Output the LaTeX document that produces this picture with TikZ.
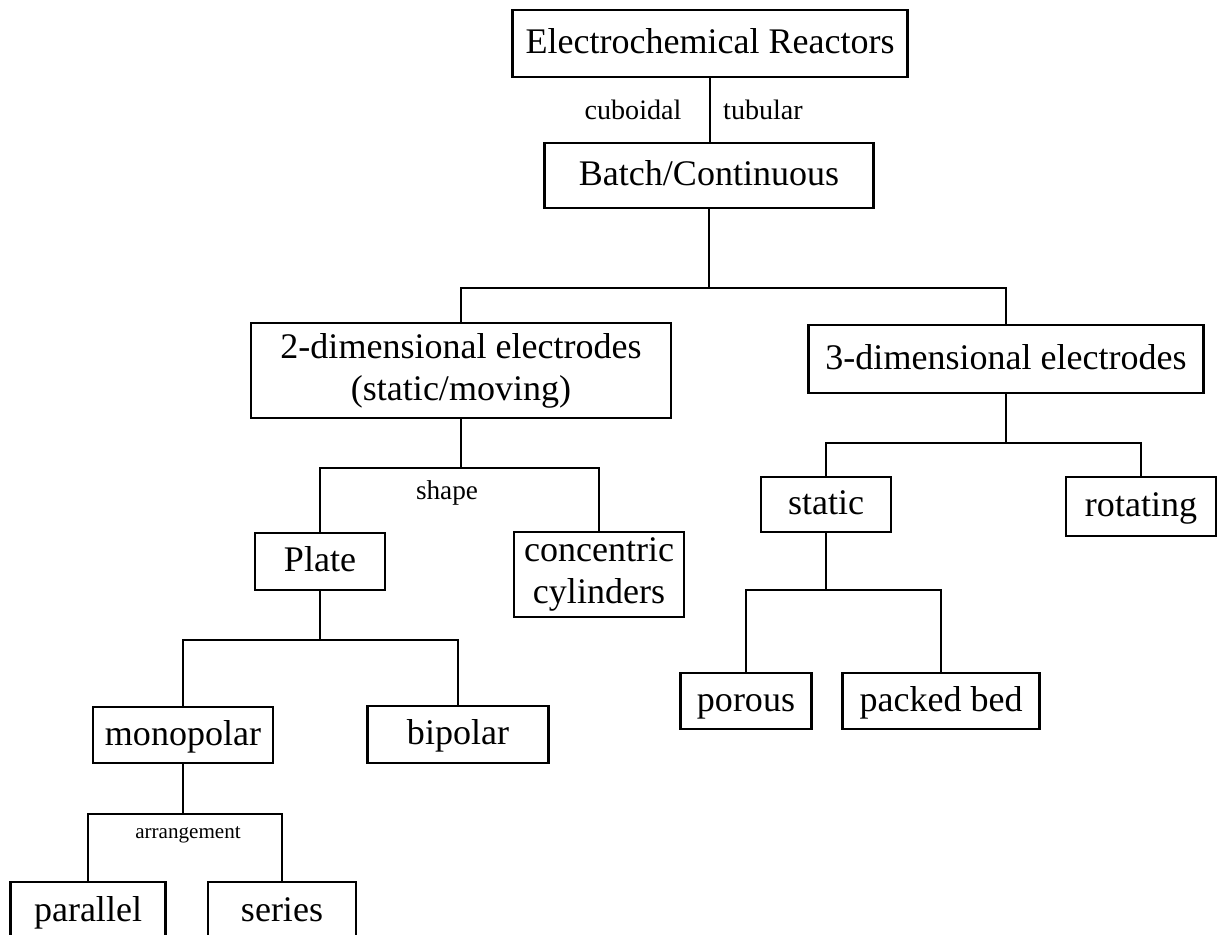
\documentclass[tikz,border=0pt]{standalone}
\usepackage{fontspec}
\setmainfont{Liberation Serif}

\tikzset{
  blk/.style={draw,line width=1.3pt,inner sep=0pt,align=center,font=\fontsize{20.5}{24}\selectfont},
  one/.style={blk,text height=15pt,text depth=3.6pt},
  lbl/.style={inner sep=0pt,font=\fontsize{16}{18}\selectfont},
}

\begin{document}
\begin{tikzpicture}[x=0.02cm,y=-0.02cm,line width=1.3pt]
\useasboundingbox (0,0) rectangle (1217,934);
% boxes
\node[one,minimum width=7.9cm,minimum height=1.34cm] (er) at (710,43.5) {Electrochemical Reactors};
\node[one,minimum width=6.58cm,minimum height=1.3cm] (bc) at (709,175.5) {Batch/Continuous};
\node[blk,minimum width=8.4cm,minimum height=1.9cm] (twod) at (461,370.5) {2-dimensional electrodes\\(static/moving)};
\node[one,minimum width=7.9cm,minimum height=1.36cm] (threed) at (1006,359) {3-dimensional electrodes};
\node[one,minimum width=2.6cm,minimum height=1.1cm] (stat) at (826,504.5) {static};
\node[one,minimum width=3.0cm,minimum height=1.18cm] (rot) at (1141,506.5) {rotating};
\node[one,minimum width=2.62cm,minimum height=1.12cm] (por) at (746,701) {porous};
\node[one,minimum width=3.94cm,minimum height=1.12cm] (pb) at (941,701) {packed bed};
\node[one,minimum width=2.6cm,minimum height=1.14cm] (plate) at (320,561.5) {Plate};
\node[blk,minimum width=3.4cm,minimum height=1.7cm] (conc) at (599,574.5) {concentric\\cylinders};
\node[one,minimum width=3.6cm,minimum height=1.12cm] (mono) at (183,735) {monopolar};
\node[one,minimum width=3.62cm,minimum height=1.14cm] (bip) at (458,734.5) {bipolar};
\node[one,minimum width=3.1cm,minimum height=1.16cm] (par) at (88,911) {parallel};
\node[one,minimum width=2.96cm,minimum height=1.16cm] (ser) at (282,911) {series};
% small labels
\node[lbl] (cub) at (633,110) {cuboidal};
\node[lbl] (tub) at (763,110) {tubular};
\node[lbl,font=\fontsize{15.5}{18}\selectfont] (shp) at (447,493) {shape};
\node[lbl,font=\fontsize{12}{14}\selectfont] (arr) at (188,835) {arrangement};
% levels of the branches
\coordinate (y1) at (0,288);
\coordinate (y2) at (0,468);
\coordinate (y3) at (0,443);
\coordinate (y4) at (0,640);
\coordinate (y5) at (0,590);
\coordinate (y6) at (0,814);
% connectors
\draw (er.south) -- (er.south |- bc.north);
\draw (bc.south) -- (bc.south |- y1);
\draw (twod.north) |- (threed.north |- y1) -- (threed.north);
\draw (twod.south) -- (twod.south |- y2);
\draw (plate.north) |- (conc.north |- y2) -- (conc.north);
\draw (threed.south) -- (threed.south |- y3);
\draw (stat.north) |- (rot.north |- y3) -- (rot.north);
\draw (plate.south) -- (plate.south |- y4);
\draw (mono.north) |- (bip.north |- y4) -- (bip.north);
\draw (stat.south) -- (stat.south |- y5);
\draw (por.north) |- (pb.north |- y5) -- (pb.north);
\draw (mono.south) -- (mono.south |- y6);
\draw (par.north) |- (ser.north |- y6) -- (ser.north);
\end{tikzpicture}
\end{document}
